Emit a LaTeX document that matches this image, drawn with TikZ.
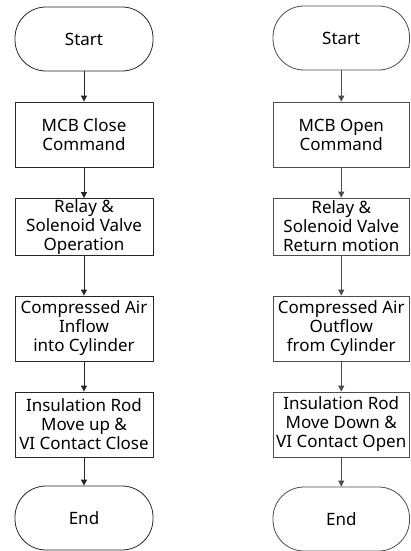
\documentclass[tikz,border=0pt]{standalone}
\usepackage{fontspec}
\setmainfont{Noto Sans}
\usetikzlibrary{arrows.meta}
\tikzset{
  base/.style={draw, line width=0.8pt, inner sep=0pt, align=center,
    font=\fontsize{17}{19}\selectfont, text=black},
  term/.style={base, rounded corners=31pt, minimum height=64pt},
  proc/.style={base, minimum height=65pt},
  lcol/.style={draw=black!85, minimum width=138pt},
  rcol/.style={draw=black!70, minimum width=136.5pt},
  flow/.style={line width=0.8pt, -{Triangle[length=6pt,width=6pt]}},
}
\begin{document}
\begin{tikzpicture}[x=1pt,y=-1pt]
\useasboundingbox (0,0) rectangle (410,551);
% left column
\node[term,lcol] (ls) at (84,39) {Start};
\node[proc,lcol] (l1) at (84,134.5) {MCB Close\\Command};
\node[proc,lcol,minimum height=57pt] (l2) at (84,227) {Relay \&\\Solenoid Valve\\Operation};
\node[proc,lcol] (l3) at (84,328.5) {Compressed Air\\Inflow\\into Cylinder};
\node[proc,lcol] (l4) at (84,424.5) {Insulation Rod\\Move up \&\\VI Contact Close};
\node[term,lcol] (le) at (84,518) {End};
\foreach \a/\b in {ls/l1,l1/l2,l2/l3,l3/l4,l4/le}
  \draw[flow,draw=black!85,fill=black!85] (\a) -- (\b);
% right column
\node[term,rcol] (rs) at (341.25,38) {Start};
\node[proc,rcol] (r1) at (341.25,134.5) {MCB Open\\Command};
\node[proc,rcol,minimum height=57pt] (r2) at (341.25,226.5) {Relay \&\\Solenoid Valve\\Return motion};
\node[proc,rcol] (r3) at (341.25,328.5) {Compressed Air\\Outflow\\from Cylinder};
\node[proc,rcol] (r4) at (341.25,424.5) {Insulation Rod\\Move Down \&\\VI Contact Open};
\node[term,rcol] (re) at (341.25,519) {End};
\foreach \a/\b in {rs/r1,r1/r2,r2/r3,r3/r4,r4/re}
  \draw[flow,draw=black!70,fill=black!70] (\a) -- (\b);
\end{tikzpicture}
\end{document}
